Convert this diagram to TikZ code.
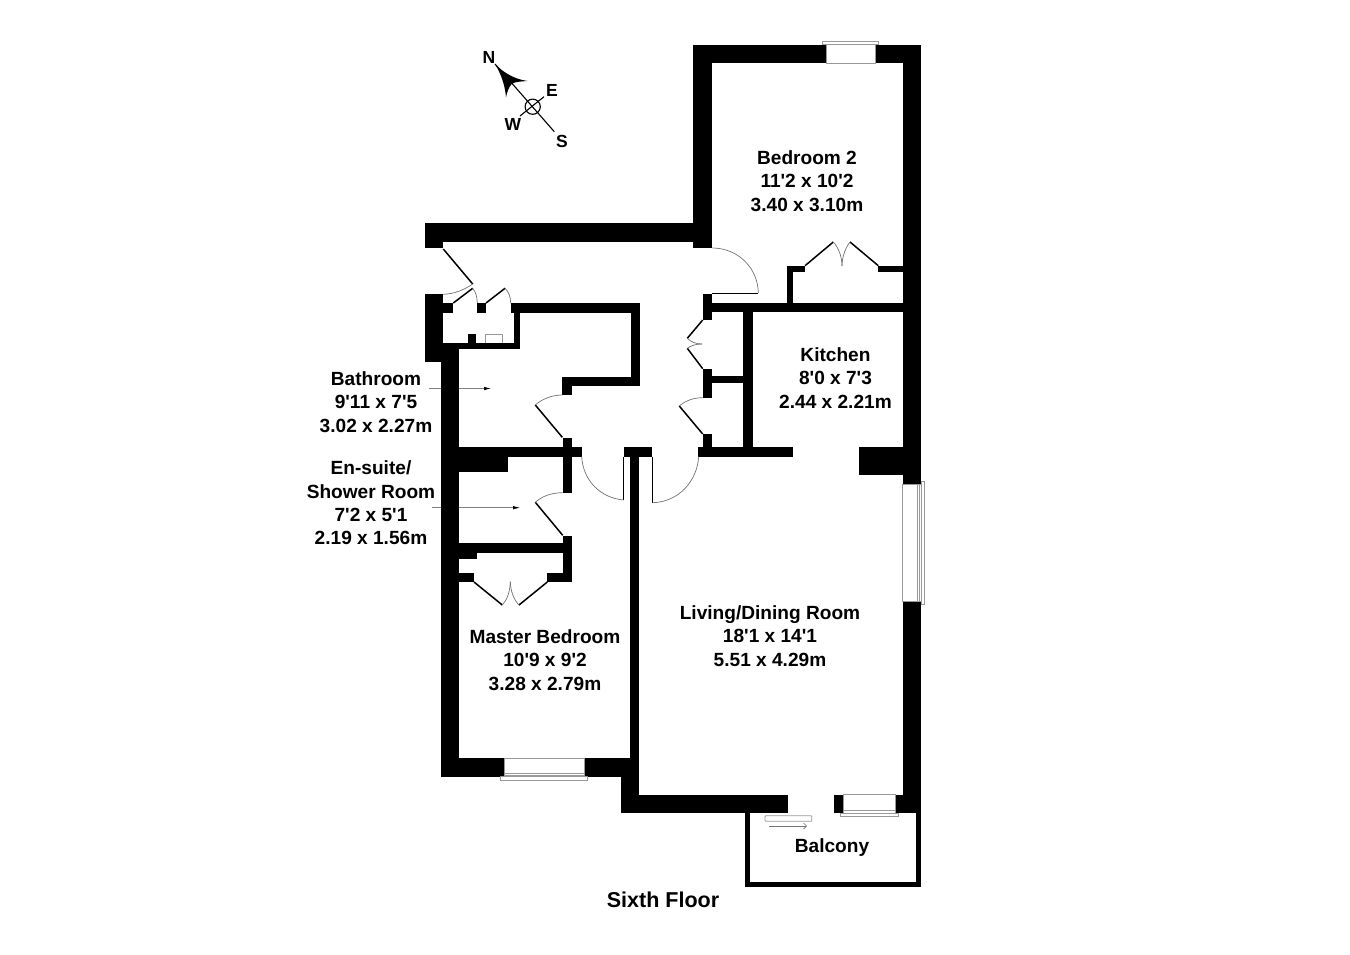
\documentclass[tikz,border=0pt]{standalone}
\usepackage{fontspec}
\setmainfont[Ligatures=TeXOff]{Liberation Sans}
\usetikzlibrary{arrows.meta}
\tikzset{
  wall/.style={fill=black,draw=none},
  leaf/.style={draw=black,line width=1.5pt},
  swing/.style={draw=black!55,line width=.7pt},
  pane/.style={draw=black!40,line width=.8pt,fill=white},
  label/.style={font=\bfseries\fontsize{19.1}{23.4}\selectfont,align=center,inner sep=0pt,text=black},
  compassletter/.style={font=\bfseries\fontsize{17.5}{18}\selectfont,inner sep=0pt,text=black},
  pointer/.style={draw=black!50,line width=.7pt,-{Latex[black,length=7pt,width=3.5pt]}},
}
\newcommand{\wl}[4]{\fill[wall] (#1,#2) rectangle (#3,#4);}
\begin{document}
\begin{tikzpicture}[x=1pt,y=-1pt]
\useasboundingbox (0,0) rectangle (1350,954);
\fill[white] (0,0) rectangle (1350,954);
% leader arrows
\coordinate (bathS) at (429,388.5); \coordinate (bathE) at (491,388.5);
\coordinate (ensS) at (432,507.7); \coordinate (ensE) at (520,507.7);
\draw[pointer] (bathS) -- (bathE);
\draw[pointer] (ensS) -- (ensE);
% outer walls: bedroom 2
\wl{693.3}{44.7}{826}{63.3}
\wl{875}{44.7}{921}{63.3}
\wl{693.3}{44.7}{712.3}{248.2}
\wl{902.7}{44.7}{921}{484.3}
\wl{859.3}{447.3}{902.7}{475}
\wl{902.7}{601.7}{921}{813.3}
% hall top
\wl{425}{223.3}{712.3}{242.3}
\wl{425}{242.3}{443.3}{248.3}
% left block
\wl{425}{294.3}{443.3}{361.7}
\wl{443.3}{303.3}{453.3}{312.7}
\wl{440.7}{343.3}{459}{777}
% cupboard
\wl{443.3}{343.3}{520}{349.3}
\wl{514}{303.3}{520}{349.3}
\wl{477.3}{303.3}{486}{312.7}
\wl{468.3}{334}{476}{343.5}
\draw[pane,fill=none] (485.7,343.3) -- (485.7,334.7) -- (502.7,334.7) -- (502.7,343.3);
% bathroom
\wl{511}{303.3}{640}{312.7}
\wl{630.7}{303.3}{640}{386}
\wl{562.3}{376.7}{640}{386}
\wl{562.3}{376.7}{572}{395}
\wl{459}{447.3}{581.7}{456.7}
\wl{459}{456.7}{508}{472.3}
\wl{562.7}{437.7}{571.7}{492.7}
% en-suite
\wl{562.7}{535.7}{571.7}{582}
\wl{459}{543.3}{562.7}{552.7}
\wl{459}{552.7}{477.3}{558.7}
\wl{459}{572.7}{474}{582}
\wl{547.3}{572.7}{571.7}{582}
% centre
\wl{624.3}{447.3}{652.3}{456.7}
\wl{630}{456.7}{639.3}{795}
% kitchen and cupboards
\wl{698.3}{447.3}{792.7}{456.7}
\wl{702.7}{434.3}{712.3}{447.3}
\wl{702.7}{369}{712.3}{397.7}
\wl{702.7}{294}{712.3}{320}
\wl{702.7}{303.3}{902.7}{312.3}
\wl{743.3}{303.3}{752.7}{447.3}
\wl{712.3}{376}{743.3}{382.7}
% bedroom 2 wardrobe
\wl{787}{265.7}{793}{303.3}
\wl{787}{265.7}{805}{272.3}
\wl{878.3}{265.7}{902.7}{272.3}
% bottom
\wl{440.7}{758.3}{504}{777}
\wl{584.3}{758.3}{630}{777}
\wl{620.7}{758.3}{639.3}{813.3}
\wl{620.7}{794.7}{788.3}{813.3}
\wl{834}{794.7}{843.3}{813.3}
\wl{895.7}{794.7}{902.7}{813.3}
% balcony
\wl{745}{813.3}{750}{887}
\wl{745}{881.7}{921}{887}
\wl{916}{813.3}{921}{887}
% windows
\draw[pane] (826,44.7) rectangle (875,63.3);
\draw[pane] (822.7,41.7) rectangle (878.7,44.7);
\draw[pane] (902.7,484.3) rectangle (921,601.7);
\draw[pane] (917.3,484.3) -- (917.3,601.7);
\draw[pane] (919.2,484.3) -- (919.2,601.7);
\draw[pane] (921,481) rectangle (924,604.3);
\draw[pane] (504,758.3) rectangle (584.3,775);
\draw[pane] (504,773.3) -- (584.3,773.3);
\draw[pane] (500.7,776.7) rectangle (587.7,780.3);
\draw[pane] (843.3,794.7) rectangle (895.7,813.3);
\draw[pane] (843.3,810) -- (895.7,810);
\draw[pane] (840,813.3) rectangle (898.7,816.7);
\draw[pane,rounded corners=.8pt] (765,815.7) rectangle (811.7,821.3);
\draw[swing,-{Straight Barb[length=3pt,width=6pt]}] (769.3,826) -- (807,826);
% door leaves
\draw[leaf] (443.3,249) -- (472.7,284);
\draw[leaf] (453.3,303) -- (472.7,288.3);
\draw[leaf] (486,303) -- (505,288.3);
\draw[leaf] (562.3,437.3) -- (535.3,405);
\draw[leaf] (562.7,535.3) -- (535.3,502.3);
\draw[leaf] (474,582) -- (502.3,605);
\draw[leaf] (547.3,582) -- (519,605);
\draw[leaf] (623.7,456.7) -- (623.7,500);
\draw[leaf] (652.7,456.7) -- (652.7,502.7);
\draw[leaf] (702.7,320) -- (687.3,338.3);
\draw[leaf] (702.7,368.7) -- (687.3,348.3);
\draw[leaf] (702.7,434) -- (679.3,406);
\draw[leaf] (712.3,293.5) -- (758.3,293.5);
\draw[leaf] (805,265.7) -- (833.3,242);
\draw[leaf] (878.3,265.7) -- (850,242);
% door swings
\draw[swing] (443.3,294.3) .. controls (454,294) and (464,290) .. (472.7,284);
\draw[swing] (472.7,288.3) .. controls (476,292) and (477,297) .. (477.3,303);
\draw[swing] (505,288.3) .. controls (509,292) and (510.5,297) .. (510.7,303.3);
\draw[swing] (535.3,405) .. controls (542,399) and (552,395) .. (562.3,395);
\draw[swing] (535.3,502.3) .. controls (542,496) and (552,492.7) .. (562.7,492.7);
\draw[swing] (502.3,605) .. controls (507,600) and (510,592) .. (510.3,581.7);
\draw[swing] (519,605) .. controls (514,600) and (510.7,592) .. (510.3,581.7);
\draw[swing] (581.7,456.7) .. controls (583,480) and (600,498) .. (623.7,500);
\draw[swing] (698.7,456.7) .. controls (697,482) and (678,502) .. (652.7,502.7);
\draw[swing] (687.3,338.3) .. controls (691,342) and (696,344) .. (702,344);
\draw[swing] (687.3,348.3) .. controls (691,345.5) and (696,344) .. (702,344);
\draw[swing] (679.3,406) .. controls (685,401) and (693,397.7) .. (702.7,397.7);
\draw[swing] (712.3,248) .. controls (738,248) and (758,268) .. (758.3,293);
\draw[swing] (833.3,242) .. controls (838,247) and (842,256) .. (842,266);
\draw[swing] (850,242) .. controls (846,247) and (842,256) .. (842,266);
% compass
\draw[black,line width=1.1pt] (495,64) -- (554.3,131.7);
\draw[black,line width=1.1pt] (544,96.7) -- (520,116);
\draw[black,line width=1.1pt] (532.7,106.7) circle (7.6);
\fill[black] (495,64) .. controls (505,74) and (515,79) .. (527.3,81) .. controls (520,81.5) and (514,82) .. (511.7,84) .. controls (509,87) and (507,92) .. (506,97.3) .. controls (505,85) and (501,74) .. (495,64) -- cycle;
\node[compassletter] (n) at (489,57) {N};
\node[compassletter] (e) at (552,90) {E};
\node[compassletter] (w) at (513,124) {W};
\node[compassletter] (s) at (562,141) {S};
% labels
\node[label] (bed2) at (807,181) {Bedroom 2\\11'2 x 10'2\\3.40 x 3.10m};
\node[label] (kit) at (835.5,378) {Kitchen\\8'0 x 7'3\\2.44 x 2.21m};
\node[label] (bath) at (376,402) {Bathroom\\9'11 x 7'5\\3.02 x 2.27m};
\node[label] (ens) at (371,503) {En-suite/\\Shower Room\\7'2 x 5'1\\2.19 x 1.56m};
\node[label] (mast) at (545,660) {Master Bedroom\\10'9 x 9'2\\3.28 x 2.79m};
\node[label] (liv) at (770,636) {Living/Dining Room\\18'1 x 14'1\\5.51 x 4.29m};
\node[label] (balc) at (832,848) {Balcony};
\node[label,font=\bfseries\fontsize{21.5}{24}\selectfont] (floor) at (663,900) {Sixth Floor};
\end{tikzpicture}
\end{document}
